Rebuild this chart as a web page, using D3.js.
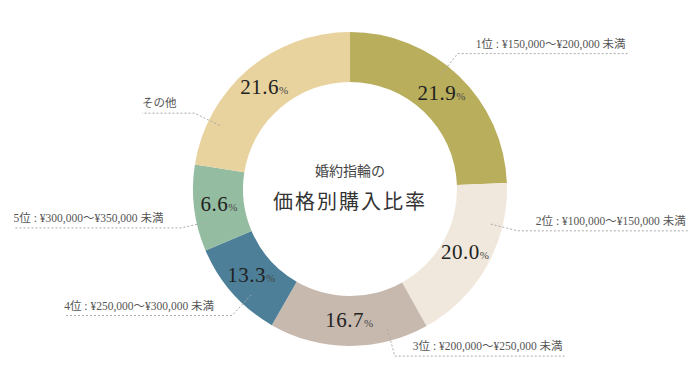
<!DOCTYPE html>
<html>
<head>
<meta charset="utf-8">
<script src="https://cdn.jsdelivr.net/npm/d3@7"></script>
<style>
  body { margin: 0; background: #fff; }
  svg { display: block; }
</style>
</head>
<body>
<svg id="chart" width="700" height="385"></svg>
<script>
// slice labels, shares as printed, and the arc sizes as drawn in the picture
var rankLabels = ["1位 : ¥150,000〜¥200,000 未満", "2位 : ¥100,000〜¥150,000 未満",
                  "3位 : ¥200,000〜¥250,000 未満", "4位 : ¥250,000〜¥300,000 未満",
                  "5位 : ¥300,000〜¥350,000 未満", "その他"];
var shareText = ["21.9", "20.0", "16.7", "13.3", "6.6", "21.6"];
var arcShares = [24.4, 17.5, 16.4, 10.3, 8.9, 22.5];
var sliceColors = ["#b8ae5c", "#f0e8dc", "#c8b9af", "#4d7f98", "#94bca1", "#e8d39f"];
// where each leader line leaves its slice (degrees, clockwise from top)
var leaderAngles = [38.5, 104, 165, 223, 257, 296];

var serif = "'Liberation Serif', 'DejaVu Serif', 'Noto Sans CJK JP', serif";
var jp = "'Liberation Serif', 'Noto Sans CJK JP', serif";

var svg = d3.select("#chart"),
    cx = 350, cy = 189,
    outerR = 157, innerR = 107,
    g = svg.append("g").attr("transform", "translate(" + cx + "," + cy + ")");

var pie = d3.pie().sort(null).value(function(d) { return d; });
var arc = d3.arc().innerRadius(innerR).outerRadius(outerR);
var slices = pie(arcShares);

g.selectAll("path.slice")
  .data(slices)
  .enter().append("path")
  .attr("class", "slice")
  .attr("d", arc)
  .attr("fill", function(d, i) { return sliceColors[i]; });

// percentage labels
var pct = g.selectAll("text.pct")
  .data(slices)
  .enter().append("text")
  .attr("class", "pct")
  .attr("transform", function(d) { return "translate(" + arc.centroid(d) + ")"; })
  .attr("text-anchor", "middle")
  .attr("dy", "0.36em")
  .style("font-family", serif)
  .style("fill", "#222");
pct.append("tspan")
  .style("font-size", "21px")
  .style("letter-spacing", "0.5px")
  .text(function(d, i) { return shareText[i]; });
pct.append("tspan")
  .style("font-size", "11px")
  .style("fill", "#444")
  .text("%");

// leader lines and category labels
function pt(deg, r) {
  var a = deg * Math.PI / 180;
  return [r * Math.sin(a), -r * Math.cos(a)];
}

leaderAngles.forEach(function(deg, i) {
  var right = deg < 180;
  var p0 = pt(deg, 145), p1 = pt(deg, 173);
  var t = g.append("text")
    .attr("y", p1[1] - 6)
    .style("font-family", jp)
    .style("font-size", "11.5px")
    .style("fill", "#555")
    .text(rankLabels[i]);
  var w = t.node().getComputedTextLength();
  var gap = 18;
  var x0, x1;
  if (right) {
    x0 = p1[0] + gap; x1 = x0 + w + 2;
    t.attr("x", x0);
  } else {
    x1 = p1[0] - gap; x0 = x1 - w;
    t.attr("x", x0);
  }
  var endX = right ? x1 : x0;
  g.append("polyline")
    .attr("points", [p0, p1, [endX, p1[1]]].map(function(p) { return p.join(","); }).join(" "))
    .attr("fill", "none")
    .attr("stroke", "#aaa")
    .attr("stroke-width", 1)
    .attr("stroke-dasharray", "2,2");
});

// centre title
g.append("text")
  .attr("text-anchor", "middle")
  .attr("y", -13)
  .style("font-family", jp)
  .style("font-size", "14px")
  .style("fill", "#444")
  .text("婚約指輪の");
g.append("text")
  .attr("text-anchor", "middle")
  .attr("y", 20)
  .style("font-family", jp)
  .style("font-size", "20px")
  .style("letter-spacing", "2px")
  .style("fill", "#333")
  .text("価格別購入比率");
</script>
</body>
</html>
